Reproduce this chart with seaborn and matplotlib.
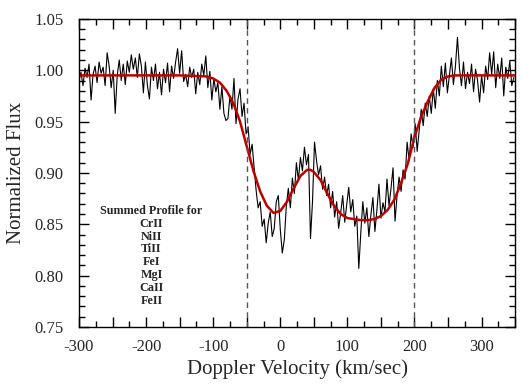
import numpy as np
import pandas as pd
import matplotlib
matplotlib.use('Agg')
import matplotlib.pyplot as plt
from matplotlib.ticker import MultipleLocator, FuncFormatter
import seaborn as sns

# ============================
# data
# ============================
v_start = -300.0
v_step = 3.0

flux = [
    # -300 .. -201
    0.990, 0.998, 0.985, 1.002, 0.993, 1.006, 0.971, 0.996, 1.004, 0.988,
    1.008, 0.997, 1.003, 0.985, 1.017, 1.004, 0.983, 1.000, 0.958, 0.995,
    1.010, 0.990, 1.006, 0.986, 1.009, 0.998, 1.015, 1.001, 1.012, 0.993,
    1.016, 1.004, 0.978, 1.008,
    # -198 .. -81
    0.985, 0.972, 1.003, 0.990, 1.006, 0.982, 0.998, 0.976, 1.001, 0.988,
    1.007, 0.979, 1.004, 0.992, 1.008, 1.021, 0.997, 1.019, 0.989, 0.996,
    0.984, 1.003, 0.993, 1.001, 0.977, 0.998, 0.986, 1.006, 0.995, 1.014,
    0.983, 0.999, 0.971, 0.992, 0.979, 0.988, 0.962, 0.984, 0.958, 0.951,
    # -78 .. 30
    0.953, 0.975, 0.962, 0.992, 0.948, 0.972, 0.982, 0.955, 0.968, 0.938,
    0.945, 0.918, 0.928, 0.905, 0.883, 0.866, 0.872, 0.848, 0.855, 0.832,
    0.851, 0.862, 0.838, 0.846, 0.872, 0.878, 0.845, 0.822, 0.835, 0.868,
    0.885, 0.866, 0.895, 0.880, 0.910, 0.893, 0.915,
    # 33 .. 144
    0.902, 0.925, 0.908, 0.918, 0.836, 0.872, 0.930, 0.912, 0.898, 0.907,
    0.884, 0.896, 0.878, 0.889, 0.866, 0.882, 0.857, 0.872, 0.846, 0.861,
    0.878, 0.852, 0.869, 0.886, 0.862, 0.874, 0.848, 0.858, 0.807, 0.842,
    0.872, 0.851, 0.866, 0.838, 0.859, 0.876, 0.843, 0.864,
    # 147 .. 249
    0.889, 0.856, 0.871, 0.862, 0.894, 0.868, 0.885, 0.905, 0.853, 0.878,
    0.896, 0.882, 0.903, 0.894, 0.930, 0.912, 0.938, 0.925, 0.948, 0.921,
    0.942, 0.962, 0.946, 0.968, 0.955, 0.975, 0.958, 0.982, 0.963, 0.990,
    0.975, 1.004, 0.984, 1.007, 0.978,
    # 252 .. 348
    0.995, 1.012, 0.986, 1.004, 1.032, 1.002, 0.985, 1.008, 0.982, 0.998,
    0.987, 1.006, 0.979, 1.001, 0.990, 0.969, 0.995, 0.978, 1.004, 0.991,
    1.017, 0.996, 1.018, 0.983, 1.006, 0.992, 1.012, 0.975, 1.003, 0.992,
    1.009, 0.985, 0.993,
]
velocity = v_start + v_step * np.arange(len(flux))

# fitted profile (red)
fit_v = [-300, -150, -110, -100, -90, -80, -70, -60, -50, -40, -30, -20, -10,
         0, 10, 20, 30, 40, 45, 50, 60, 70, 80, 90, 100, 110, 120, 130, 140,
         150, 160, 170, 180, 190, 200, 210, 220, 230, 240, 250, 260, 350]
fit_flux = [0.995, 0.995, 0.994, 0.992, 0.988, 0.980, 0.968, 0.950, 0.926,
            0.902, 0.882, 0.868, 0.861, 0.863, 0.872, 0.885, 0.897, 0.903,
            0.903, 0.901, 0.893, 0.880, 0.868, 0.860, 0.856, 0.855, 0.854,
            0.854, 0.855, 0.858, 0.864, 0.874, 0.890, 0.909, 0.935, 0.955,
            0.970, 0.983, 0.991, 0.994, 0.995, 0.995]

window_edges = [-50, 200]
species = ['CrII', 'NiII', 'TiII', 'FeI', 'MgI', 'CaII', 'FeII']

obs = pd.DataFrame({'v': velocity, 'flux': flux})
fit = pd.DataFrame({'v': fit_v, 'flux': fit_flux})

# ============================
# plot
# ============================
sns.set_style('ticks')
plt.rcParams['font.family'] = ['Liberation Serif', 'DejaVu Serif']

fig = plt.figure(figsize=(5.23, 3.86), dpi=100)
ax = fig.add_axes([0.151, 0.153, 0.834, 0.798])

sns.lineplot(data=obs, x='v', y='flux', ax=ax, color='black', linewidth=0.8)
sns.lineplot(data=fit, x='v', y='flux', ax=ax, color='#c00000', linewidth=1.8)
for xv in window_edges:
    ax.axvline(xv, color='#555555', linestyle=(0, (4, 3)), linewidth=1.0)

ax.text(-192, 0.869, 'Summed Profile for\n' + '\n'.join(species),
        ha='center', va='top', fontsize=8.7, fontweight='bold', linespacing=1.1)

ax.set_xlim(-300, 350)
ax.set_ylim(0.75, 1.05)
ax.xaxis.set_major_locator(MultipleLocator(50))
ax.xaxis.set_minor_locator(MultipleLocator(25))
ax.xaxis.set_major_formatter(FuncFormatter(
    lambda x, p: f'{x:.0f}' if abs(x % 100) < 1e-6 else ''))
ax.yaxis.set_major_locator(MultipleLocator(0.05))
ax.yaxis.set_minor_locator(MultipleLocator(0.01))
ax.yaxis.set_major_formatter(FuncFormatter(lambda y, p: f'{y:.2f}'))
ax.tick_params(which='both', direction='in', top=True, right=True,
               labelsize=12, color='black')
ax.tick_params(which='major', length=7, width=1.0)
ax.tick_params(axis='x', which='major', pad=9)
ax.tick_params(axis='y', which='major', pad=11)
ax.tick_params(which='minor', length=4, width=1.0)
for s in ax.spines.values():
    s.set_linewidth(1.0)
    s.set_color('black')

ax.set_xlabel('Doppler Velocity (km/sec)', fontsize=15, labelpad=3)
ax.set_ylabel('Normalized Flux', fontsize=15, labelpad=6)

fig.savefig('out.png', dpi=100)
plt.close(fig)
